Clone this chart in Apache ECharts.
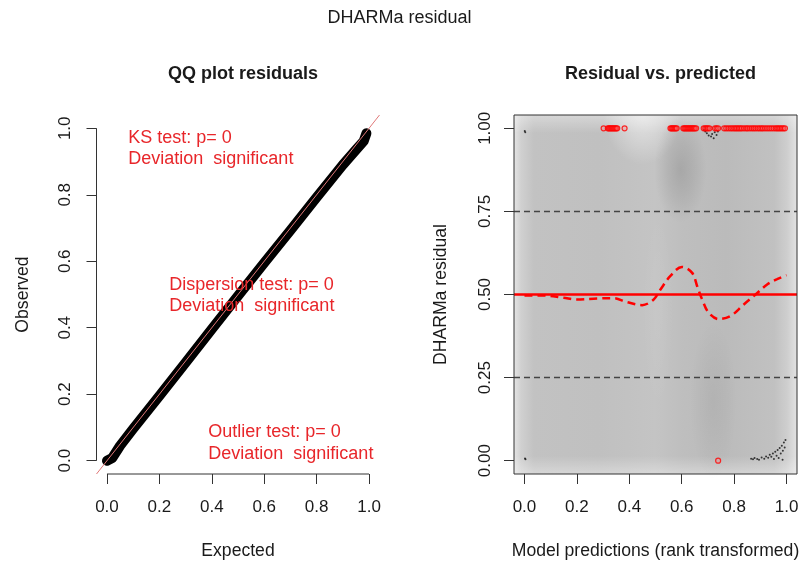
<!DOCTYPE html>
<html>
<head>
<meta charset="utf-8">
<script src="https://cdn.jsdelivr.net/npm/echarts@6/dist/echarts.min.js"></script>
<style>
  html, body { margin: 0; padding: 0; background: #ffffff; }
  #chart { width: 799px; height: 562px; }
</style>
</head>
<body>
<div id="chart"></div>
<script>
// ---- QQ plot of the scaled residuals (expected vs observed quantiles) ----
const qqExpected = [0.00, 0.02, 0.05, 0.10, 0.20, 0.30, 0.40, 0.50, 0.60, 0.70, 0.80, 0.90, 0.95, 0.98, 0.99];
const qqObserved = [0.00, 0.008, 0.045, 0.096, 0.195, 0.295, 0.396, 0.496, 0.595, 0.693, 0.792, 0.890, 0.935, 0.962, 0.985];

// ---- tick labels ----
const unitTicks = [0, 0.2, 0.4, 0.6, 0.8, 1.0];
const residualTicks = [0, 0.25, 0.5, 0.75, 1.0];

// ---- reference lines in the residual panel ----
const quartileLines = [0.25, 0.75];
const medianLine = [0.5];

// ---- outliers (residual exactly 0 or 1), x = rank-transformed prediction ----
const outlierHighX = [
  0.302, 0.318, 0.322, 0.326, 0.330, 0.334, 0.338, 0.342, 0.346, 0.350, 0.354, 0.382,
  0.557, 0.561, 0.565, 0.569, 0.573, 0.577, 0.581,
  0.606, 0.610, 0.614, 0.618, 0.622, 0.626, 0.630, 0.634, 0.638, 0.642, 0.646, 0.650, 0.655,
  0.684, 0.690, 0.695, 0.700, 0.706,
  0.727, 0.733, 0.739,
  0.762, 0.770, 0.778, 0.786, 0.793, 0.800, 0.806, 0.812, 0.818, 0.824, 0.830, 0.838,
  0.846, 0.852, 0.860, 0.868, 0.875, 0.882, 0.890, 0.897, 0.904, 0.910, 0.918, 0.926,
  0.934, 0.942, 0.950, 0.958, 0.964, 0.970, 0.976, 0.982, 0.988, 0.994
];
const outlierLowX = [0.739];

// ---- remaining residuals ----
const residX = [
  0.001, 0.003, 0.002, 0.004,
  0.684, 0.690, 0.696, 0.703, 0.712, 0.716, 0.722, 0.726, 0.733, 0.738,
  0.865, 0.872, 0.878, 0.888, 0.895, 0.905, 0.915, 0.922, 0.930, 0.936, 0.942, 0.948,
  0.952, 0.957, 0.962, 0.966, 0.970, 0.974, 0.978, 0.982, 0.986, 0.990, 0.993, 0.996, 0.985
];
const residY = [
  0.992, 0.988, 0.007, 0.004,
  0.995, 0.990, 0.985, 0.978, 0.975, 0.983, 0.970, 0.988, 0.980, 0.990,
  0.006, 0.004, 0.008, 0.005, 0.003, 0.010, 0.006, 0.013, 0.009, 0.018, 0.012, 0.022,
  0.005, 0.027, 0.015, 0.032, 0.008, 0.038, 0.022, 0.045, 0.030, 0.055, 0.040, 0.062, 0.003
];

// ---- smooth fit of residuals against predictions ----
const smoothX = [0.00, 0.073, 0.149, 0.20, 0.277, 0.34, 0.391, 0.449, 0.493, 0.519, 0.557, 0.601,
                 0.640, 0.659, 0.678, 0.703, 0.741, 0.786, 0.837, 0.882, 0.926, 0.964, 1.00];
const smoothY = [0.497, 0.497, 0.490, 0.485, 0.488, 0.489, 0.477, 0.468, 0.485, 0.515, 0.556, 0.583,
                 0.565, 0.525, 0.485, 0.445, 0.426, 0.435, 0.470, 0.500, 0.530, 0.546, 0.558];

// ---- test annotations in the QQ panel ----
const testLines = [
  ['KS test: p= 0', 'Deviation  significant'],
  ['Dispersion test: p= 0', 'Deviation  significant'],
  ['Outlier test: p= 0', 'Deviation  significant']
];

// axis extents (4% padding around the unit interval)
const LO = -0.04, HI = 1.04;
const FONT = '"Liberation Sans", Arial, Helvetica, sans-serif';
const INK = '#1a1a1a';
const RED = '#ff0000';

const gridL = { left: 96.5, top: 115, width: 283, height: 359 };
const gridR = { left: 514, top: 115, width: 283, height: 359 };

function makeX(gridIndex, name, ticks, digits) {
  return {
    type: 'value', gridIndex, min: LO, max: HI,
    name, nameLocation: 'middle', nameGap: 68,
    nameTextStyle: { fontFamily: FONT, fontSize: 17.6, color: INK },
    axisLine: { show: false, onZero: false },
    axisTick: { show: true, inside: false, customValues: ticks, length: 10, lineStyle: { color: '#333', width: 1 } },
    axisLabel: { customValues: ticks, formatter: v => v.toFixed(digits), fontFamily: FONT, fontSize: 17, color: INK, margin: 25 },
    splitLine: { show: false }
  };
}
function makeY(gridIndex, name, ticks, digits, labelMargin, nameGap) {
  return {
    type: 'value', gridIndex, min: LO, max: HI,
    name, nameLocation: 'middle', nameGap,
    nameTextStyle: { fontFamily: FONT, fontSize: 17.6, color: INK },
    axisLine: { show: false, onZero: false },
    axisTick: { show: true, inside: false, customValues: ticks, length: 10, lineStyle: { color: '#333', width: 1 } },
    axisLabel: { customValues: ticks, formatter: v => v.toFixed(digits), rotate: 90, fontFamily: FONT, fontSize: 17, color: INK, margin: labelMargin },
    splitLine: { show: false }
  };
}

const chart = echarts.init(document.getElementById('chart'), null, { renderer: 'canvas' });

const option = {
  animation: false,
  backgroundColor: '#ffffff',
  title: [
    { text: 'DHARMa residual', left: 'center', top: 4,
      textStyle: { fontFamily: FONT, fontSize: 18, fontWeight: 'normal', color: INK } },
    { text: 'QQ plot residuals', left: gridL.left + gridL.width / 2, textAlign: 'center', top: 60,
      textStyle: { fontFamily: FONT, fontSize: 18, fontWeight: 'bold', color: INK } },
    { text: 'Residual vs. predicted', left: gridR.left + gridR.width / 2, textAlign: 'center', top: 60,
      textStyle: { fontFamily: FONT, fontSize: 18, fontWeight: 'bold', color: INK } }
  ],
  grid: [
    Object.assign({ containLabel: false, outerBoundsMode: 'none' }, gridL),
    Object.assign({ containLabel: false, outerBoundsMode: 'none' }, gridR)
  ],
  xAxis: [
    makeX(0, 'Expected', unitTicks, 1),
    makeX(1, 'Model predictions (rank transformed)', unitTicks, 1)
  ],
  yAxis: [
    makeY(0, 'Observed', unitTicks, 1, 22.5, 64.5),
    makeY(1, 'DHARMa residual', residualTicks, 2, 20, 64)
  ],
  series: [
    // QQ panel: axis lines spanning the tick range
    { type: 'line', xAxisIndex: 0, yAxisIndex: 0, silent: true, clip: false, symbol: 'none', z: 3,
      data: [[LO, unitTicks[0]], [LO, unitTicks[unitTicks.length - 1]]],
      lineStyle: { color: '#333', width: 1 } },
    { type: 'line', xAxisIndex: 0, yAxisIndex: 0, silent: true, clip: false, symbol: 'none', z: 3,
      data: [[unitTicks[0], LO], [unitTicks[unitTicks.length - 1], LO]],
      lineStyle: { color: '#333', width: 1 } },
    // QQ band
    { type: 'line', xAxisIndex: 0, yAxisIndex: 0, silent: true, symbol: 'none', z: 4,
      data: qqExpected.map((e, i) => [e, qqObserved[i]]),
      lineStyle: { color: '#000000', width: 10, cap: 'round', join: 'round' } },
    // 1:1 reference line
    { type: 'line', xAxisIndex: 0, yAxisIndex: 0, silent: true, symbol: 'none', z: 5,
      data: [[LO, LO], [HI, HI]],
      lineStyle: { color: '#e07878', width: 1 } },

    // residual panel: quartile reference lines
    { type: 'line', xAxisIndex: 1, yAxisIndex: 1, silent: true, data: [], z: 4,
      markLine: { silent: true, symbol: 'none', label: { show: false },
        lineStyle: { color: '#444', width: 1.4, type: [6, 4] },
        data: quartileLines.map(v => ({ yAxis: v })) } },
    // simulated residuals
    { type: 'scatter', xAxisIndex: 1, yAxisIndex: 1, silent: true, z: 5,
      symbol: 'circle', symbolSize: 2,
      data: residX.map((x, i) => [x, residY[i]]),
      itemStyle: { color: '#111' } },
    // outliers
    { type: 'scatter', xAxisIndex: 1, yAxisIndex: 1, silent: true, z: 6,
      symbol: 'circle', symbolSize: 5,
      data: outlierHighX.map(x => [x, 1]).concat(outlierLowX.map(x => [x, 0])),
      itemStyle: { color: 'rgba(255,120,120,0.35)', borderColor: RED, borderWidth: 1.2 } },
    // smooth fit
    { type: 'line', xAxisIndex: 1, yAxisIndex: 1, silent: true, symbol: 'none', smooth: 0.35, z: 7,
      data: smoothX.map((x, i) => [x, smoothY[i]]),
      lineStyle: { color: RED, width: 2.5, type: [8, 5] } },
    // median reference line
    { type: 'line', xAxisIndex: 1, yAxisIndex: 1, silent: true, data: [], z: 8,
      markLine: { silent: true, symbol: 'none', label: { show: false },
        lineStyle: { color: RED, width: 2.6, type: 'solid' },
        data: medianLine.map(v => ({ yAxis: v })) } }
  ]
};

chart.setOption(option);

// ---- shaded density backdrop and frame of the residual panel ----
const P = (x, y) => chart.convertToPixel({ gridIndex: 1 }, [x, y]);
const [bx0, by0] = P(LO, HI);
const [bx1, by1] = P(HI, LO);
const bw = bx1 - bx0, bh = by1 - by0;

function blob(cx, cy, rxVal, ryVal, rgb, alpha) {
  const [px, py] = P(cx, cy);
  const [qx] = P(cx + rxVal, cy);
  const [, qy] = P(cx, cy + ryVal);
  const rx = Math.abs(qx - px), ry = Math.abs(py - qy);
  return {
    type: 'circle', silent: true, z: 1,
    x: px, y: py, scaleY: ry / rx,
    shape: { cx: 0, cy: 0, r: rx },
    style: {
      fill: new echarts.graphic.RadialGradient(0.5, 0.5, 0.5, [
        { offset: 0, color: 'rgba(' + rgb + ',' + alpha + ')' },
        { offset: 0.5, color: 'rgba(' + rgb + ',' + (alpha * 0.55) + ')' },
        { offset: 1, color: 'rgba(' + rgb + ',0)' }
      ])
    }
  };
}

const graphics = [
  { type: 'rect', silent: true, z: 0,
    shape: { x: bx0, y: by0, width: bw, height: bh },
    style: { fill: new echarts.graphic.LinearGradient(0, 0, 1, 0, [
      { offset: 0, color: '#e4e4e4' },
      { offset: 0.025, color: '#d0d0d0' },
      { offset: 0.07, color: '#c2c2c2' },
      { offset: 0.3, color: '#c0c0c0' },
      { offset: 0.5, color: '#c4c4c4' },
      { offset: 0.6, color: '#bebebe' },
      { offset: 0.75, color: '#bbbbbb' },
      { offset: 0.92, color: '#c1c1c1' },
      { offset: 0.965, color: '#cecece' },
      { offset: 1, color: '#e2e2e2' }
    ]) } },
  // top and bottom fades
  { type: 'rect', silent: true, z: 1,
    shape: { x: bx0, y: by0, width: bw, height: 18 },
    style: { fill: new echarts.graphic.LinearGradient(0, 0, 0, 1, [
      { offset: 0, color: 'rgba(255,255,255,0.35)' }, { offset: 1, color: 'rgba(255,255,255,0)' }]) } },
  { type: 'rect', silent: true, z: 1,
    shape: { x: bx0, y: by1 - 18, width: bw, height: 18 },
    style: { fill: new echarts.graphic.LinearGradient(0, 1, 0, 0, [
      { offset: 0, color: 'rgba(255,255,255,0.35)' }, { offset: 1, color: 'rgba(255,255,255,0)' }]) } },
  blob(0.45, 1.05, 0.15, 0.16, '255,255,255', 0.55),
  blob(0.595, 0.875, 0.10, 0.16, '0,0,0', 0.12),
  blob(0.72, 0.18, 0.09, 0.24, '0,0,0', 0.05),
  blob(0.51, 0.45, 0.06, 0.3, '255,255,255', 0.06),
  // frame
  { type: 'rect', silent: true, z: 50,
    shape: { x: bx0, y: by0, width: bw, height: bh },
    style: { fill: null, stroke: '#333', lineWidth: 1 } }
];

// test annotations, anchored to the QQ panel corner
const [qx0, qy0] = chart.convertToPixel({ gridIndex: 0 }, [LO, HI]);
const annotationOffsets = [[31.8, 23], [72.8, 170], [111.8, 317.5]];
testLines.forEach((lines, k) => {
  lines.forEach((t, j) => {
    graphics.push({
      type: 'text', silent: true, z: 20,
      x: qx0 + annotationOffsets[k][0],
      y: qy0 + annotationOffsets[k][1] + j * 21.5,
      style: { text: t, fill: '#e8262a', font: '18px ' + FONT, textVerticalAlign: 'middle', textAlign: 'left' }
    });
  });
});

chart.setOption({ graphic: graphics });
</script>
</body>
</html>
